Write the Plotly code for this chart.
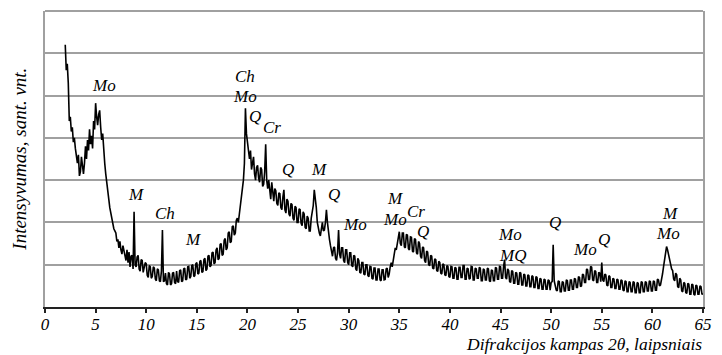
import plotly.graph_objects as go

# 2-theta sampling grid: 2.0 .. 65.0 deg, step 0.1 deg (10 samples per degree)
theta_start = 2.0
theta_step = 0.1

# Intensity (arbitrary units), one row per degree: n.0, n.1, ... n.9
intensity = [
    6.20, 5.60, 5.75, 5.30, 4.40, 4.50, 4.15, 4.25, 3.90, 4.00,   # 2
    3.75, 3.55, 3.40, 3.60, 3.10, 3.20, 3.55, 3.35, 3.15, 3.40,   # 3
    3.80, 3.50, 3.95, 3.70, 4.20, 3.85, 4.05, 3.75, 4.40, 4.20,   # 4
    4.82, 4.50, 4.30, 4.55, 4.65, 4.25, 3.95, 4.10, 3.65, 3.40,   # 5
    3.15, 2.90, 2.70, 2.55, 2.35, 2.20, 2.15, 1.95, 1.85, 1.80,   # 6
    1.75, 1.55, 1.60, 1.40, 1.55, 1.35, 1.25, 1.45, 1.30, 1.20,   # 7
    1.10, 1.35, 1.05, 1.30, 0.95, 1.20, 1.22, 0.90, 2.25, 1.00,   # 8
    0.95, 1.18, 1.22, 0.90, 0.85, 1.12, 1.10, 0.82, 0.95, 1.05,   # 9
    1.02, 0.75, 0.70, 0.98, 0.95, 0.68, 0.72, 0.95, 0.92, 0.66,   # 10
    0.62, 0.90, 0.88, 0.62, 0.60, 0.85, 1.82, 0.60, 0.62, 0.80,   # 11
    0.55, 0.52, 0.82, 0.78, 0.52, 0.55, 0.80, 0.82, 0.58, 0.55,   # 12
    0.85, 0.60, 0.58, 0.86, 0.88, 0.60, 0.62, 0.90, 0.92, 0.64,   # 13
    0.66, 0.95, 0.96, 0.68, 0.72, 0.98, 1.00, 0.72, 0.74, 1.02,   # 14
    1.05, 0.78, 0.80, 1.08, 1.10, 0.82, 0.84, 1.12, 1.15, 0.86,   # 15
    0.90, 1.20, 1.22, 0.95, 0.98, 1.28, 1.30, 1.02, 1.05, 1.35,   # 16
    1.40, 1.12, 1.15, 1.48, 1.50, 1.22, 1.25, 1.58, 1.62, 1.35,   # 17
    1.40, 1.75, 1.78, 1.52, 1.55, 1.90, 1.92, 1.70, 1.75, 2.05,   # 18
    2.10, 2.00, 2.20, 2.40, 2.55, 2.75, 3.00, 3.40, 4.70, 4.10,   # 19
    3.85, 3.60, 3.50, 3.70, 3.25, 3.40, 3.55, 3.15, 3.00, 3.30,   # 20
    3.35, 3.05, 2.95, 3.30, 3.25, 2.85, 2.90, 3.20, 3.85, 3.00,   # 21
    2.80, 3.00, 2.65, 2.55, 2.95, 2.70, 2.50, 2.80, 2.75, 2.45,   # 22
    2.40, 2.70, 2.68, 2.35, 2.30, 2.60, 2.77, 2.30, 2.22, 2.55,   # 23
    2.50, 2.20, 2.15, 2.45, 2.42, 2.10, 2.05, 2.38, 2.35, 2.00,   # 24
    2.00, 2.32, 2.30, 1.98, 1.92, 2.25, 2.20, 1.88, 1.85, 2.15,   # 25
    2.10, 1.80, 1.80, 2.10, 2.25, 2.40, 2.77, 2.60, 2.35, 2.00,   # 26
    1.85, 1.75, 1.68, 1.90, 2.00, 1.80, 1.82, 2.00, 2.30, 2.00,   # 27
    1.75, 1.60, 1.45, 1.30, 1.20, 1.40, 1.42, 1.15, 1.10, 1.30,   # 28
    1.82, 1.25, 1.15, 1.40, 1.40, 1.10, 1.05, 1.35, 1.35, 1.05,   # 29
    1.00, 1.28, 1.28, 0.98, 0.95, 1.22, 1.20, 0.90, 0.86, 1.15,   # 30
    1.10, 0.82, 0.80, 1.05, 1.05, 0.78, 0.76, 1.00, 1.00, 0.74,   # 31
    0.72, 0.96, 0.95, 0.68, 0.66, 0.92, 0.92, 0.64, 0.64, 0.90,   # 32
    0.90, 0.64, 0.62, 0.88, 0.88, 0.64, 0.65, 0.90, 0.92, 0.70,   # 33
    0.78, 0.95, 1.05, 0.95, 1.12, 1.30, 1.40, 1.35, 1.50, 1.65,   # 34
    1.78, 1.50, 1.45, 1.75, 1.75, 1.42, 1.40, 1.72, 1.70, 1.38,   # 35
    1.35, 1.66, 1.65, 1.32, 1.30, 1.62, 1.60, 1.28, 1.25, 1.55,   # 36
    1.50, 1.20, 1.15, 1.42, 1.40, 1.10, 1.05, 1.32, 1.30, 1.00,   # 37
    0.98, 1.22, 1.20, 0.92, 0.90, 1.14, 1.12, 0.86, 0.84, 1.08,   # 38
    1.05, 0.80, 0.78, 1.02, 1.00, 0.76, 0.74, 0.98, 0.96, 0.72,   # 39
    0.70, 0.96, 0.95, 0.68, 0.68, 0.94, 0.92, 0.66, 0.66, 0.94,   # 40
    0.94, 0.70, 0.70, 0.98, 0.98, 0.66, 0.66, 0.92, 0.90, 0.66,   # 41
    0.68, 0.96, 0.95, 0.64, 0.64, 0.92, 0.90, 0.68, 0.68, 0.94,   # 42
    0.92, 0.62, 0.62, 0.90, 0.88, 0.64, 0.64, 0.92, 0.90, 0.62,   # 43
    0.60, 0.88, 0.86, 0.62, 0.62, 0.94, 0.92, 0.66, 0.66, 0.96,   # 44
    0.95, 0.68, 0.68, 0.96, 1.12, 0.70, 0.66, 0.90, 0.86, 0.60,   # 45
    0.58, 0.86, 0.84, 0.56, 0.56, 0.82, 0.80, 0.54, 0.54, 0.82,   # 46
    0.80, 0.52, 0.52, 0.78, 0.76, 0.50, 0.50, 0.76, 0.74, 0.48,   # 47
    0.48, 0.74, 0.72, 0.46, 0.46, 0.72, 0.70, 0.44, 0.44, 0.68,   # 48
    0.66, 0.42, 0.42, 0.66, 0.64, 0.42, 0.42, 0.64, 0.62, 0.40,   # 49
    0.58, 0.60, 1.47, 0.62, 0.52, 0.40, 0.38, 0.62, 0.60, 0.36,   # 50
    0.36, 0.60, 0.58, 0.38, 0.38, 0.64, 0.62, 0.40, 0.40, 0.64,   # 51
    0.64, 0.42, 0.42, 0.68, 0.66, 0.46, 0.46, 0.72, 0.70, 0.48,   # 52
    0.50, 0.78, 0.76, 0.58, 0.58, 0.90, 0.88, 0.64, 0.66, 0.96,   # 53
    0.94, 0.64, 0.62, 0.86, 0.84, 0.58, 0.58, 0.82, 0.80, 0.60,   # 54
    1.05, 0.64, 0.60, 0.78, 0.76, 0.52, 0.50, 0.74, 0.72, 0.46,   # 55
    0.46, 0.68, 0.66, 0.44, 0.44, 0.66, 0.64, 0.42, 0.42, 0.64,   # 56
    0.62, 0.40, 0.38, 0.62, 0.60, 0.36, 0.36, 0.60, 0.58, 0.36,   # 57
    0.36, 0.60, 0.58, 0.34, 0.34, 0.58, 0.56, 0.34, 0.34, 0.60,   # 58
    0.58, 0.36, 0.36, 0.60, 0.58, 0.38, 0.38, 0.62, 0.60, 0.38,   # 59
    0.38, 0.62, 0.60, 0.40, 0.40, 0.66, 0.64, 0.50, 0.52, 0.62,   # 60
    0.78, 0.95, 1.10, 1.25, 1.43, 1.35, 1.22, 1.15, 1.02, 0.90,   # 61
    0.86, 0.66, 0.62, 0.80, 0.76, 0.48, 0.46, 0.68, 0.64, 0.38,   # 62
    0.36, 0.58, 0.56, 0.34, 0.32, 0.56, 0.54, 0.30, 0.30, 0.54,   # 63
    0.52, 0.30, 0.28, 0.52, 0.50, 0.30, 0.30, 0.50, 0.48, 0.30,   # 64
    0.32,                                                         # 65
]
two_theta = [round(theta_start + i * theta_step, 1) for i in range(len(intensity))]

# Phase labels: text, 2theta position, intensity position
label_text = ["Mo", "Ch", "Mo", "Q", "Cr", "M", "Ch", "M", "Q", "M", "Q", "Mo",
              "M", "Mo", "Cr", "Q", "Mo", "MQ", "Q", "Mo", "Q", "M", "Mo"]
label_x = [5.85, 19.8, 19.8, 20.75, 22.4, 8.95, 11.9, 14.6, 24.0, 27.1, 28.5, 30.6,
           34.6, 34.6, 36.6, 37.3, 45.9, 46.2, 50.4, 53.3, 55.2, 61.7, 61.5]
label_y = [5.24, 5.45, 4.98, 4.50, 4.24, 2.65, 2.20, 1.59, 3.25, 3.25, 2.65, 1.94,
           2.56, 2.06, 2.27, 1.78, 1.72, 1.22, 2.00, 1.37, 1.60, 2.20, 1.73]

x_ticks = [0, 5, 10, 15, 20, 25, 30, 35, 40, 45, 50, 55, 60, 65]

serif = "Liberation Serif, Times New Roman, serif"

fig = go.Figure()
fig.add_trace(go.Scatter(
    x=two_theta, y=intensity, mode="lines",
    line=dict(color="black", width=1.6),
    hoverinfo="skip", showlegend=False,
))

for t, lx, ly in zip(label_text, label_x, label_y):
    fig.add_annotation(x=lx, y=ly, text=t, showarrow=False,
                       xanchor="center", yanchor="middle",
                       font=dict(family=serif, size=17, color="black", style="italic"))

fig.add_annotation(xref="paper", yref="paper", x=1.0, y=-0.1622,
                   text="Difrakcijos kampas 2θ, laipsniais", showarrow=False,
                   xanchor="right", yanchor="bottom", borderpad=0,
                   font=dict(family=serif, size=17.5, color="black", style="italic"))
fig.add_annotation(xref="paper", yref="paper", x=-0.04, y=0.5,
                   text="Intensyvumas, sant. vnt.", showarrow=False, textangle=-90,
                   xanchor="center", yanchor="middle",
                   font=dict(family=serif, size=19, color="black", style="italic"))

fig.update_layout(
    width=722, height=355,
    margin=dict(l=45, r=10, t=11, b=48),
    paper_bgcolor="white", plot_bgcolor="white",
    xaxis=dict(range=[0, 65], tickvals=x_ticks, ticktext=[str(v) for v in x_ticks],
               showgrid=False, zeroline=False,
               showline=True, linecolor="#222222", linewidth=2,
               ticks="outside", ticklen=4, tickwidth=2, tickcolor="#222222",
               ticklabelstandoff=-3,
               tickfont=dict(family=serif, size=17, color="black", style="italic")),
    yaxis=dict(range=[0, 7], dtick=1, showticklabels=False,
               showgrid=True, gridcolor="#a0a0a0", gridwidth=2,
               zeroline=False, showline=True, linecolor="#a0a0a0", linewidth=2,
               mirror=True, ticks=""),
    shapes=[dict(type="line", xref="paper", yref="paper", x0=0, x1=1, y0=1, y1=1,
                 line=dict(color="#a0a0a0", width=2))],
)

fig.write_html("out.html")
